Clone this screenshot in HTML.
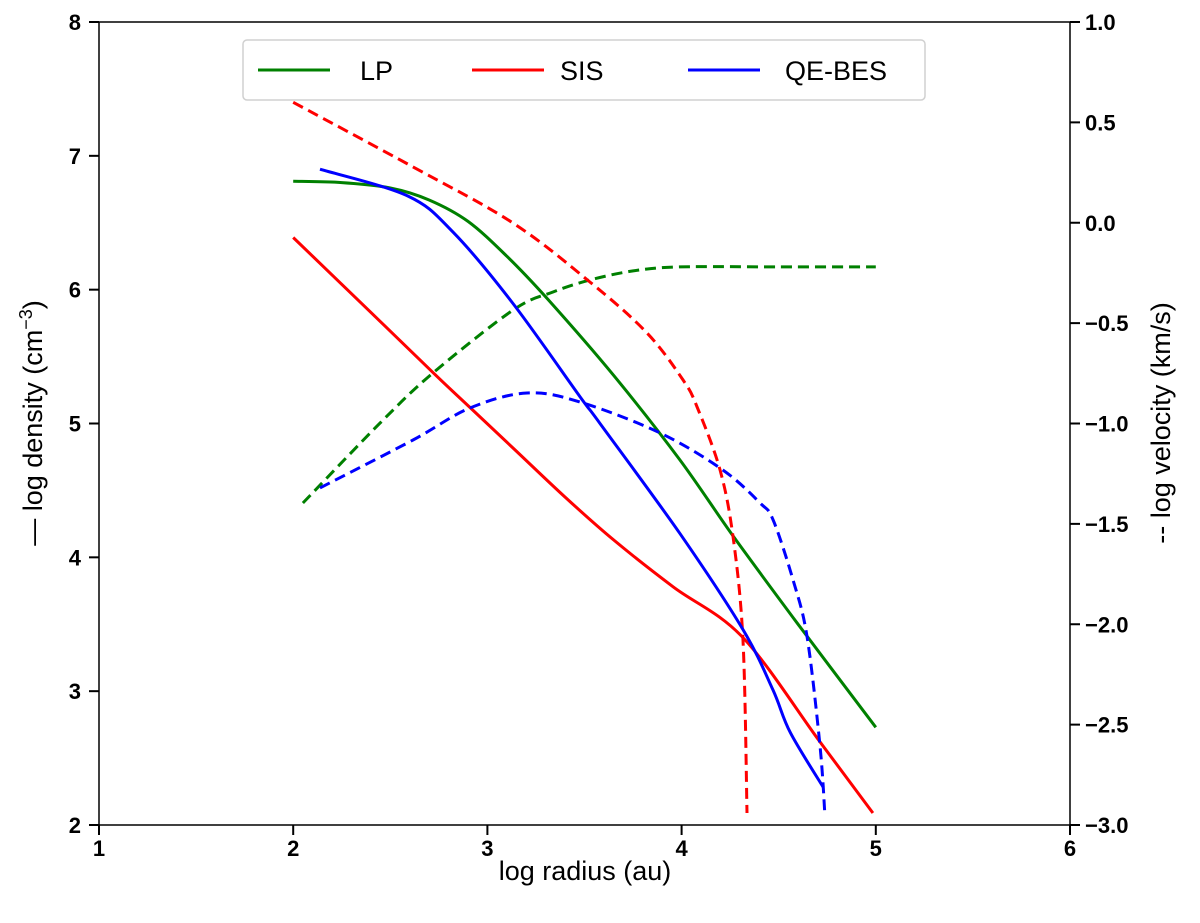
<!DOCTYPE html>
<html><head><meta charset="utf-8"><style>
body{margin:0;background:#fff;}
svg{display:block;font-family:"Liberation Sans",sans-serif;}
</style></head><body>
<svg id="c" width="1200" height="923"></svg>
<script>
const xTicks=[1,2,3,4,5,6];
const yLeftTicks=[2,3,4,5,6,7,8];
const yRightTicks=[1.0,0.5,0.0,-0.5,-1.0,-1.5,-2.0,-2.5,-3.0];
const yRightLabels=["1.0","0.5","0.0","\u22120.5","\u22121.0","\u22121.5","\u22122.0","\u22122.5","\u22123.0"];
const lpDensX=[2.0,2.25,2.5,2.7,2.9,3.1,3.31,3.65,3.99,4.27,4.6,5.0];
const lpDensY=[6.81,6.80,6.76,6.67,6.51,6.25,5.93,5.36,4.73,4.15,3.5,2.73];
const lpVelX=[2.05,2.447,2.72,3.132,3.338,3.528,3.75,3.99,4.5,5.0];
const lpVelY=[-1.396,-0.998,-0.748,-0.435,-0.345,-0.285,-0.24,-0.22,-0.22,-0.22];
const sisDensX=[2.0,2.4,2.72,2.91,3.13,3.4,3.65,3.956,4.316,4.713,4.985];
const sisDensY=[6.39,5.83,5.38,5.12,4.82,4.45,4.13,3.78,3.40,2.62,2.09];
const sisVelX=[2.0,2.617,3.13,3.528,3.822,4.007,4.08,4.198,4.265,4.316,4.337];
const sisVelY=[0.60,0.278,0.0,-0.295,-0.549,-0.783,-0.918,-1.232,-1.566,-2.08,-2.94];
const qeDensX=[2.138,2.59,2.823,3.13,3.477,3.58,3.99,4.316,4.47,4.56,4.73];
const qeDensY=[6.90,6.70,6.43,5.90,5.20,5.00,4.18,3.46,3.01,2.69,2.28];
const qeVelX=[2.138,2.617,2.91,3.204,3.477,3.889,4.213,4.404,4.471,4.574,4.646,4.713,4.738];
const qeVelY=[-1.321,-1.082,-0.923,-0.848,-0.893,-1.047,-1.232,-1.396,-1.48,-1.78,-2.063,-2.61,-2.95];

const L=99,R=1070,T=22,B=825;
const sx=v=>L+(v-1)/5*(R-L);
const syL=v=>B-(v-2)/6*(B-T);
const syR=v=>B-(v+3)/4*(B-T);
const NS="http://www.w3.org/2000/svg";
const svg=document.getElementById('c');
function mk(tag,attrs,parent){const e=document.createElementNS(NS,tag);for(const k in attrs)e.setAttribute(k,attrs[k]);(parent||svg).appendChild(e);return e;}
function path(xs,ys,fy,color,dash,name){
  const P=xs.map((x,i)=>[sx(x),fy(ys[i])]);
  let d='M'+P[0][0].toFixed(1)+','+P[0][1].toFixed(1);
  for(let i=0;i<P.length-1;i++){
    const p0=P[i-1]||P[i],p1=P[i],p2=P[i+1],p3=P[i+2]||P[i+1];
    const c1=[p1[0]+(p2[0]-p0[0])/6,p1[1]+(p2[1]-p0[1])/6];
    const c2=[p2[0]-(p3[0]-p1[0])/6,p2[1]-(p3[1]-p1[1])/6];
    d+='C'+c1.map(v=>v.toFixed(1)).join(',')+' '+c2.map(v=>v.toFixed(1)).join(',')+' '+p2.map(v=>v.toFixed(1)).join(',');
  }
  const p=mk('path',{d:d,fill:'none',stroke:color,'stroke-width':3,'stroke-dasharray':dash||'none','stroke-linejoin':'round'});
  
  
}
const fr=mk('rect',{x:L,y:T,width:R-L,height:B-T,fill:'none',stroke:'#000','stroke-width':1.5});


xTicks.forEach(v=>{
  mk('line',{x1:sx(v),x2:sx(v),y1:B,y2:B+10,stroke:'#000','stroke-width':2});
  const t=mk('text',{x:sx(v),y:B+31,'text-anchor':'middle','font-size':22,'font-weight':'bold'});t.textContent=v;
  
  
});
yLeftTicks.forEach(v=>{
  mk('line',{x1:L-10,x2:L,y1:syL(v),y2:syL(v),stroke:'#000','stroke-width':2});
  const t=mk('text',{x:L-18,y:syL(v)+8,'text-anchor':'end','font-size':22,'font-weight':'bold'});t.textContent=v;
  
  
});
yRightTicks.forEach((v,i)=>{
  mk('line',{x1:R,x2:R+10,y1:syR(v),y2:syR(v),stroke:'#000','stroke-width':2});
  const t=mk('text',{x:R+15,y:syR(v)+8,'text-anchor':'start','font-size':22,'font-weight':'bold'});t.textContent=yRightLabels[i];
  
  
});
path(lpDensX,lpDensY,syL,'#008000',null,'lp-density-line');
path(lpVelX,lpVelY,syR,'#008000','11 6','lp-velocity-line');
path(sisDensX,sisDensY,syL,'#ff0000',null,'sis-density-line');
path(sisVelX,sisVelY,syR,'#ff0000','11 6','sis-velocity-line');
path(qeDensX,qeDensY,syL,'#0000ff',null,'qebes-density-line');
path(qeVelX,qeVelY,syR,'#0000ff','11 6','qebes-velocity-line');
let t=mk('text',{x:585,y:880,'text-anchor':'middle','font-size':27});t.textContent='log radius (au)';


t=mk('text',{x:0,y:0,'text-anchor':'middle','font-size':27,transform:'translate(42,423) rotate(-90)'});
t.innerHTML='— log density (cm<tspan dy="-10" font-size="18">−3</tspan><tspan dy="10">)</tspan>';


t=mk('text',{x:0,y:0,'text-anchor':'middle','font-size':27,transform:'translate(1170,423) rotate(-90)'});
t.textContent='-- log velocity (km/s)';


const lg=mk('g',{});


mk('rect',{x:243,y:40,width:682,height:60,rx:4,fill:'#fff',stroke:'#d0d0d0','stroke-width':1.5},lg);
[['LP','#008000',258,360],['SIS','#ff0000',472,560],['QE-BES','#0000ff',688,785]].forEach(e=>{
  mk('line',{x1:e[2],x2:e[2]+72,y1:70,y2:70,stroke:e[1],'stroke-width':3},lg);
  const tx=mk('text',{x:e[3],y:80,'font-size':27},lg);tx.textContent=e[0];
  
  
});
</script>
</body></html>
